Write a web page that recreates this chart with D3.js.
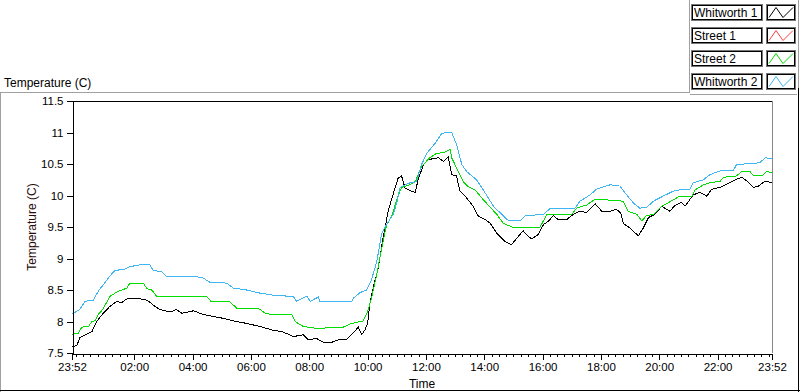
<!DOCTYPE html>
<html>
<head>
<meta charset="utf-8">
<script src="https://cdn.jsdelivr.net/npm/d3@7"></script>
<style>
  body { margin: 0; background: #fff; }
  svg { display: block; font-family: "Liberation Sans", Arial, sans-serif; }
  .axis path, .axis line { stroke: #000; shape-rendering: crispEdges; }
  .axis text { font-size: 11.5px; fill: #000; }
  .series { fill: none; stroke-width: 1; shape-rendering: crispEdges; }
</style>
</head>
<body>
<svg id="chart" width="800" height="392"></svg>
<script>
// series names and colours, as in the legend
var seriesNames = ["Whitworth 1", "Street 1", "Street 2", "Whitworth 2"];
var seriesColors = ["#000000", "#ff4040", "#00dd00", "#3fb6f2"];

// time axis
var timeStart = "23:52", timeEnd = "23:52";
var majorTicks = ["02:00", "04:00", "06:00", "08:00", "10:00", "12:00", "14:00", "16:00", "18:00", "20:00", "22:00"];
var yTicks = [7.5, 8, 8.5, 9, 9.5, 10, 10.5, 11, 11.5];

// Whitworth 1 (black)
var whitworth1Times = ["23:52","00:02","00:08","00:19","00:33","00:43","00:56","01:10","01:24","01:34","01:45","02:12","02:26","02:43","02:53","03:14","03:27","03:38","04:02","04:22","04:57","05:24","05:51","06:19","06:46","07:03","07:20","07:27","07:48","07:58","08:15","08:29","08:43","09:00","09:17","09:27","09:41","09:48","09:55","10:00","10:05","10:12","10:22","10:32","10:43","10:53","11:03","11:10","11:17","11:27","11:38","11:44","11:55","12:05","12:26","12:36","12:46","12:53","13:03","13:10","13:24","13:37","13:48","14:02","14:12","14:26","14:43","14:56","15:10","15:20","15:31","15:38","15:51","16:02","16:12","16:22","16:32","16:50","17:03","17:17","17:31","17:48","18:02","18:19","18:32","18:41","18:46","19:00","19:17","19:27","19:38","19:51","20:05","20:22","20:32","20:46","20:53","21:10","21:24","21:38","21:48","22:05","22:19","22:39","22:50","23:00","23:14","23:24","23:38","23:52"];
var whitworth1Temps = [7.60,7.62,7.74,7.79,7.84,8.00,8.13,8.24,8.32,8.30,8.36,8.36,8.34,8.24,8.19,8.15,8.19,8.13,8.17,8.11,8.06,8.01,7.97,7.92,7.86,7.84,7.79,7.76,7.79,7.71,7.73,7.67,7.66,7.71,7.72,7.79,7.91,7.79,7.87,7.97,8.29,8.55,8.85,9.33,9.77,10.03,10.28,10.31,10.12,10.08,10.05,10.25,10.49,10.57,10.60,10.54,10.61,10.33,10.31,10.07,9.96,9.83,9.67,9.62,9.56,9.40,9.27,9.22,9.35,9.44,9.35,9.31,9.38,9.54,9.59,9.68,9.62,9.62,9.70,9.75,9.73,9.87,9.75,9.75,9.78,9.72,9.56,9.48,9.36,9.48,9.65,9.70,9.83,9.75,9.84,9.89,9.83,10.01,10.05,9.99,10.10,10.13,10.18,10.26,10.29,10.23,10.13,10.15,10.23,10.20];

// Street 1 (red) - no trace visible in the chart
var street1Times = [];
var street1Temps = [];

// Street 2 (green)
var street2Times = ["23:52","00:05","00:12","00:26","00:33","00:39","00:46","00:56","01:10","01:27","01:45","01:51","02:19","02:26","02:36","02:46","04:29","04:39","05:17","05:31","06:15","06:32","07:24","07:31","07:48","08:15","09:10","09:24","09:51","10:00","10:08","10:19","10:29","10:39","10:50","11:00","11:10","11:24","11:38","11:51","12:08","12:22","12:36","12:50","12:53","13:03","13:17","13:27","13:41","13:55","14:08","14:26","14:39","15:00","15:55","16:09","17:00","17:10","17:31","17:48","18:12","18:46","18:56","19:14","19:24","19:34","19:48","20:05","20:22","20:42","21:07","21:14","21:31","21:48","22:05","22:12","22:39","22:50","23:07","23:14","23:31","23:41","23:52"];
var street2Temps = [7.80,7.81,7.91,7.92,8.00,8.01,8.11,8.20,8.40,8.48,8.53,8.61,8.61,8.52,8.50,8.40,8.40,8.31,8.31,8.21,8.21,8.12,8.11,8.00,7.92,7.89,7.91,7.96,8.01,8.15,8.37,8.75,9.16,9.53,9.68,9.93,10.13,10.16,10.22,10.46,10.60,10.67,10.68,10.73,10.60,10.44,10.22,10.14,10.09,9.96,9.85,9.70,9.56,9.49,9.50,9.70,9.70,9.80,9.85,9.94,9.93,9.91,9.75,9.70,9.60,9.68,9.70,9.83,9.90,9.99,9.99,10.09,10.17,10.21,10.22,10.29,10.31,10.38,10.38,10.31,10.31,10.38,10.36];

// Whitworth 2 (blue)
var whitworth2Times = ["23:52","00:08","00:19","00:36","00:46","00:56","01:10","01:20","01:41","01:51","02:12","02:32","02:39","02:56","03:07","03:34","04:02","04:22","04:36","05:10","05:24","05:51","06:19","06:53","07:27","07:34","07:55","08:02","08:19","08:22","08:57","09:27","09:31","09:45","09:58","10:08","10:19","10:29","10:39","10:53","11:00","11:07","11:27","11:41","11:51","12:02","12:19","12:33","12:53","13:03","13:14","13:24","13:44","13:58","14:19","14:36","14:50","15:14","15:24","16:02","16:15","17:07","17:17","17:38","17:51","18:19","18:39","18:53","19:07","19:20","19:34","19:48","20:08","20:29","20:50","21:03","21:10","21:31","21:44","22:05","22:32","22:39","23:27","23:38","23:52"];
var whitworth2Temps = [8.12,8.19,8.32,8.34,8.48,8.58,8.72,8.81,8.83,8.87,8.90,8.90,8.81,8.79,8.71,8.72,8.72,8.69,8.62,8.61,8.53,8.50,8.45,8.41,8.40,8.32,8.40,8.32,8.39,8.31,8.31,8.31,8.37,8.46,8.50,8.66,8.95,9.40,9.54,9.70,9.88,10.13,10.20,10.22,10.49,10.67,10.83,10.99,11.00,10.81,10.49,10.38,10.25,10.09,9.83,9.70,9.60,9.60,9.68,9.70,9.79,9.80,9.91,10.01,10.10,10.17,10.15,10.01,9.88,9.80,9.81,9.91,9.99,10.07,10.10,10.10,10.20,10.25,10.33,10.39,10.39,10.49,10.52,10.60,10.58];

var allTimes = [whitworth1Times, street1Times, street2Times, whitworth2Times];
var allTemps = [whitworth1Temps, street1Temps, street2Temps, whitworth2Temps];

// turn "HH:MM" strings into dates, stepping to the next day when the clock wraps
var parseClock = d3.timeParse("%Y-%m-%d %H:%M");
function toDates(times) {
  var out = [], day = 0, prev = null;
  times.forEach(function(t) {
    var d = parseClock("2000-01-0" + (1 + day) + " " + t);
    if (prev && d <= prev) { day++; d = parseClock("2000-01-0" + (1 + day) + " " + t); }
    out.push(d); prev = d;
  });
  return out;
}

var t0 = parseClock("2000-01-01 " + timeStart)
  , t1 = parseClock("2000-01-02 " + timeEnd);

var svg = d3.select("#chart");

var plot = {left: 72, right: 772, top: 101, bottom: 353};

var x = d3.scaleTime()
    .domain([t0, t1])
    .range([plot.left, plot.right]);
var y = d3.scaleLinear()
    .domain([7.5, 11.5])
    .range([plot.bottom, plot.top]);

// FRAME
var frame = svg.append("g").attr("shape-rendering", "crispEdges");
frame.append("line").attr("x1", 0).attr("x2", 689.5).attr("y1", 92.5).attr("y2", 92.5).attr("stroke", "#a0a0a0");
frame.append("line").attr("x1", 0.5).attr("x2", 0.5).attr("y1", 92.5).attr("y2", 392).attr("stroke", "#a0a0a0");
frame.append("line").attr("x1", 0).attr("x2", 800).attr("y1", 390.5).attr("y2", 390.5).attr("stroke", "#000");
frame.append("line").attr("x1", 798.5).attr("x2", 798.5).attr("y1", 88).attr("y2", 392).attr("stroke", "#000");
// legend panel edges
frame.append("line").attr("x1", 689.5).attr("x2", 689.5).attr("y1", 0).attr("y2", 92.5).attr("stroke", "#a0a0a0");
frame.append("line").attr("x1", 689.5).attr("x2", 797).attr("y1", 94.5).attr("y2", 94.5).attr("stroke", "#a0a0a0");
frame.append("line").attr("x1", 798.5).attr("x2", 798.5).attr("y1", 0).attr("y2", 88).attr("stroke", "#a0a0a0");

// plot name
svg.append("text")
    .attr("x", 4)
    .attr("y", 86.5)
    .style("font-size", "12px")
    .text("Temperature (C)");

// PLOT AREA BORDER
frame.append("line").attr("x1", plot.left).attr("x2", plot.right).attr("y1", plot.top + 0.5).attr("y2", plot.top + 0.5).attr("stroke", "#000");
frame.append("line").attr("x1", plot.right + 0.5).attr("x2", plot.right + 0.5).attr("y1", plot.top).attr("y2", plot.bottom).attr("stroke", "#888");

// LINES
var line = d3.line()
    .x(d => x(d.t))
    .y(d => y(d.v));

var lines = svg.append("g");
seriesNames.forEach(function(name, i) {
  var dates = toDates(allTimes[i]);
  var data = dates.map(function(d, j) { return {t: d, v: allTemps[i][j]}; });
  if (!data.length) return;
  lines.append("path")
      .datum(data)
      .attr("class", "series")
      .attr("stroke", seriesColors[i])
      .attr("d", line);
});

// X AXIS - minor ticks every 15 minutes
var minor = d3.timeMinute.every(15).range(t0, t1);
svg.append("g")
    .attr("class", "axis")
    .attr("transform", "translate(0," + (plot.bottom + 0.5) + ")")
    .call(d3.axisBottom(x).tickValues(minor).tickSize(3.5).tickFormat(""))
    .call(g => g.select(".domain").remove());

var majors = [t0].concat(majorTicks.map(t => parseClock("2000-01-02 " + t))).concat([t1]);
svg.append("g")
    .attr("class", "axis")
    .attr("transform", "translate(0," + (plot.bottom + 0.5) + ")")
    .call(d3.axisBottom(x).tickValues(majors).tickSize(6).tickPadding(3).tickSizeOuter(0)
      .tickFormat(d3.timeFormat("%H:%M")));

svg.append("text")
    .attr("x", (plot.left + plot.right) / 2)
    .attr("y", 388)
    .attr("text-anchor", "middle")
    .style("font-size", "12px")
    .text("Time");

// Y AXIS
svg.append("g")
    .attr("class", "axis")
    .attr("transform", "translate(" + (plot.left + 0.5) + ",0)")
    .call(d3.axisLeft(y).tickValues(yTicks).tickSize(6).tickPadding(3).tickSizeOuter(0)
      .tickFormat(d => String(d)));

svg.append("text")
    .attr("transform", "translate(36," + ((plot.top + plot.bottom) / 2) + ") rotate(-90)")
    .attr("text-anchor", "middle")
    .style("font-size", "12px")
    .style("fill", "#2a0a0a")
    .text("Temperature (C)");

// LEGEND
var legend = svg.append("g");
seriesNames.forEach(function(name, i) {
  var top = 4.5 + i * 23;
  var row = legend.append("g").attr("transform", "translate(0," + top + ")");
  row.append("rect")
      .attr("x", 691.5).attr("y", 0).attr("width", 71).attr("height", 16)
      .attr("fill", "#fff").attr("stroke", "#777").attr("shape-rendering", "crispEdges");
  row.append("rect")
      .attr("x", 692.5).attr("y", 1).attr("width", 69).attr("height", 14)
      .attr("fill", "none").attr("stroke", "#000").attr("shape-rendering", "crispEdges");
  row.append("text")
      .attr("x", 694).attr("y", 12.5)
      .style("font-size", "12px")
      .text(name);
  row.append("rect")
      .attr("x", 766.5).attr("y", 0).attr("width", 29).attr("height", 16)
      .attr("fill", "#fff").attr("stroke", "#777").attr("shape-rendering", "crispEdges");
  row.append("rect")
      .attr("x", 767.5).attr("y", 1).attr("width", 27).attr("height", 14)
      .attr("fill", "none").attr("stroke", "#000").attr("shape-rendering", "crispEdges");
  row.append("path")
      .attr("d", "M769,13 L776,3 L783,13 L793,3")
      .attr("fill", "none")
      .attr("stroke", seriesColors[i]);
});
</script>
</body>
</html>
